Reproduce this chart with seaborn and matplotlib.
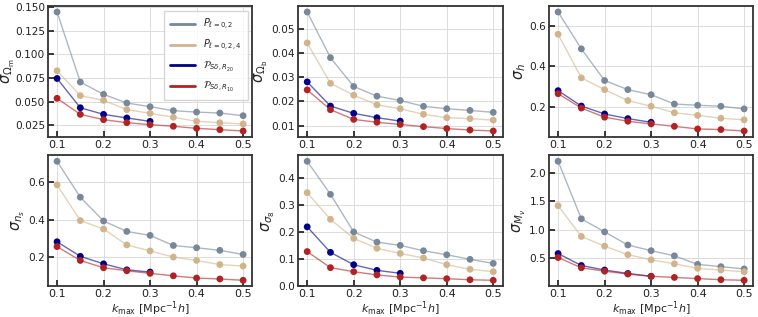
import numpy as np
import pandas as pd
import matplotlib
matplotlib.use("Agg")
import matplotlib.pyplot as plt
from matplotlib.lines import Line2D
from matplotlib.ticker import MultipleLocator, FormatStrFormatter
import seaborn as sns

kmax = [0.1, 0.15, 0.2, 0.25, 0.3, 0.35, 0.4, 0.45, 0.5]
kmax_short = kmax[:5]

# sigma_Omega_m
om_p02 = [0.145, 0.0708, 0.0578, 0.0486, 0.0447, 0.0405, 0.0390, 0.0380, 0.0352]
om_p024 = [0.0828, 0.0564, 0.0514, 0.0416, 0.0377, 0.0335, 0.0292, 0.0278, 0.0264]
om_r20 = [0.0746, 0.0436, 0.0366, 0.0328, 0.0292]
om_r10 = [0.0536, 0.0366, 0.0310, 0.0278, 0.0257, 0.0240, 0.0218, 0.0204, 0.0190]

# sigma_Omega_b
ob_p02 = [0.0570, 0.0381, 0.0262, 0.0222, 0.0204, 0.0180, 0.0170, 0.0163, 0.0155]
ob_p024 = [0.0442, 0.0275, 0.0226, 0.0186, 0.0170, 0.0147, 0.0133, 0.0129, 0.0123]
ob_r20 = [0.0281, 0.0181, 0.0151, 0.0133, 0.0119]
ob_r10 = [0.0248, 0.0166, 0.0126, 0.0114, 0.0105, 0.0096, 0.0088, 0.0082, 0.0078]

# sigma_h
h_p02 = [0.667, 0.485, 0.329, 0.284, 0.259, 0.213, 0.207, 0.202, 0.189]
h_p024 = [0.557, 0.342, 0.284, 0.230, 0.202, 0.170, 0.157, 0.143, 0.135]
h_r20 = [0.279, 0.203, 0.164, 0.141, 0.123]
h_r10 = [0.264, 0.193, 0.148, 0.128, 0.115, 0.103, 0.090, 0.087, 0.080]

# sigma_ns
ns_p02 = [0.712, 0.520, 0.393, 0.337, 0.316, 0.262, 0.250, 0.236, 0.214]
ns_p024 = [0.586, 0.395, 0.350, 0.265, 0.233, 0.200, 0.182, 0.160, 0.152]
ns_r20 = [0.282, 0.204, 0.164, 0.132, 0.120]
ns_r10 = [0.256, 0.182, 0.143, 0.127, 0.113, 0.100, 0.088, 0.083, 0.076]

# sigma_sigma8
s8_p02 = [0.464, 0.341, 0.201, 0.163, 0.151, 0.131, 0.116, 0.099, 0.084]
s8_p024 = [0.347, 0.248, 0.177, 0.140, 0.121, 0.104, 0.079, 0.062, 0.053]
s8_r20 = [0.220, 0.125, 0.079, 0.058, 0.047]
s8_r10 = [0.128, 0.068, 0.053, 0.041, 0.033, 0.030, 0.027, 0.023, 0.021]

# sigma_Mnu
mn_p02 = [2.20, 1.19, 0.96, 0.73, 0.63, 0.54, 0.39, 0.35, 0.31]
mn_p024 = [1.42, 0.88, 0.71, 0.56, 0.47, 0.40, 0.32, 0.29, 0.26]
mn_r20 = [0.58, 0.37, 0.29, 0.23, 0.18]
mn_r10 = [0.51, 0.33, 0.27, 0.22, 0.18, 0.16, 0.14, 0.12, 0.11]

ylabels = [r"$\sigma_{\Omega_{\rm m}}$", r"$\sigma_{\Omega_{\rm b}}$", r"$\sigma_{h}$",
           r"$\sigma_{n_s}$", r"$\sigma_{\sigma_8}$", r"$\sigma_{M_\nu}$"]
series_labels = [r"$P_{\ell=0,2}$", r"$P_{\ell=0,2,4}$",
                 r"$\mathcal{P}_{S\delta,R_{20}}$", r"$\mathcal{P}_{S\delta,R_{10}}$"]
colors = ["#778899", "#d2b48c", "#00008b", "#b22222"]
ytick_steps = [0.025, 0.01, 0.2, 0.2, 0.1, 0.5]
ytick_fmts = ["%.3f", "%.2f", "%.1f", "%.1f", "%.1f", "%.1f"]

panels = [
    (om_p02, om_p024, om_r20, om_r10),
    (ob_p02, ob_p024, ob_r20, ob_r10),
    (h_p02, h_p024, h_r20, h_r10),
    (ns_p02, ns_p024, ns_r20, ns_r10),
    (s8_p02, s8_p024, s8_r20, s8_r10),
    (mn_p02, mn_p024, mn_r20, mn_r10),
]

sns.set_theme(style="ticks")
plt.rcParams.update({
    "font.family": ["DejaVu Sans"],
    "axes.edgecolor": "#333333",
    "axes.linewidth": 1.3,
    "xtick.direction": "in",
    "ytick.direction": "in",
    "xtick.major.size": 4,
    "ytick.major.size": 4,
    "xtick.color": "#222222",
    "ytick.color": "#222222",
    "xtick.labelsize": 8,
    "ytick.labelsize": 7.6,
})

fig = plt.figure(figsize=(7.58, 3.17), dpi=100)
lefts = [0.063, 0.393, 0.724]
bottoms = [0.568, 0.097]
w, hgt = 0.270, 0.413

for i, (vals, ylab) in enumerate(zip(panels, ylabels)):
    r, c = divmod(i, 3)
    ax = fig.add_axes([lefts[c], bottoms[r], w, hgt])
    for j, (v, col) in enumerate(zip(vals, colors)):
        xs = kmax if len(v) == len(kmax) else kmax_short
        df = pd.DataFrame({"k": xs, "s": v})
        sns.lineplot(data=df, x="k", y="s", ax=ax, color=col, lw=1.0, alpha=0.6)
        sns.scatterplot(data=df, x="k", y="s", ax=ax, color=col, s=24,
                        edgecolor="none", zorder=3)
    ax.grid(True, color="#dcdcdc", lw=0.7)
    ax.set_axisbelow(True)
    ax.set_xticks([0.1, 0.2, 0.3, 0.4, 0.5])
    ax.yaxis.set_major_locator(MultipleLocator(ytick_steps[i]))
    ax.yaxis.set_major_formatter(FormatStrFormatter(ytick_fmts[i]))
    ax.set_ylabel(ylab, fontsize=10.5, labelpad=1)
    if i == 0:
        ax.yaxis.set_label_coords(-0.152, 0.5)
    if r == 1:
        ax.set_xlabel(r"$k_{\rm max}$ [Mpc$^{-1}h$]", fontsize=8, labelpad=0.5)
    else:
        ax.set_xlabel("")
    ax.tick_params(pad=2)
    if i == 0:
        handles = [Line2D([0], [0], color=col, lw=2) for col in colors]
        ax.legend(handles, series_labels, loc="upper right", fontsize=7,
                  frameon=True, fancybox=False, edgecolor="#cccccc",
                  handlelength=2.6, borderpad=0.6, labelspacing=0.65,
                  borderaxespad=0.5)

fig.savefig("out.png", dpi=100)
